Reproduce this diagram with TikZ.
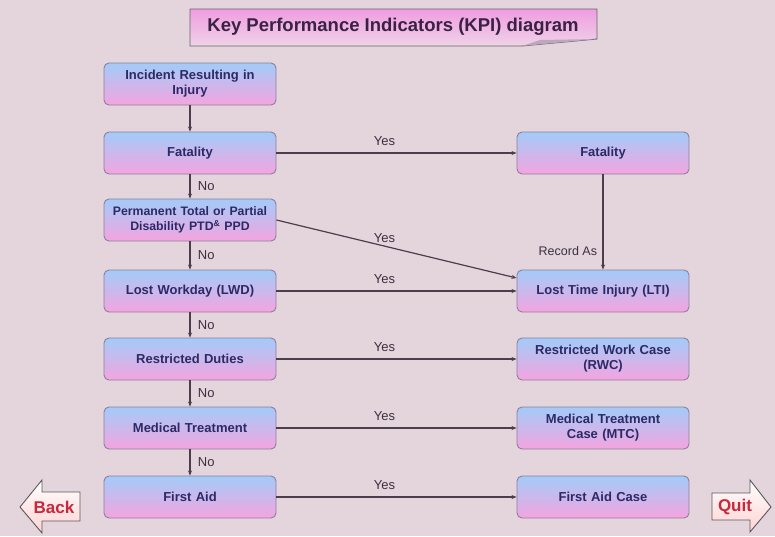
\documentclass[tikz,border=0pt]{standalone}
\usepackage{fontspec}
\setmainfont{Liberation Sans}
\usetikzlibrary{arrows.meta}
\definecolor{bgc}{HTML}{E4D5DD}
\definecolor{boxtop}{HTML}{A2CBF8}
\definecolor{boxbot}{HTML}{F5A4E0}
\definecolor{boxline}{HTML}{8C7E9C}
\definecolor{txtc}{HTML}{2B2A66}
\definecolor{linec}{HTML}{4A3D4C}
\definecolor{lblc}{HTML}{3A3040}
\definecolor{titletop}{HTML}{F09CE2}
\definecolor{titlebot}{HTML}{EFD3E6}
\definecolor{titletxt}{HTML}{3A2145}
\definecolor{navred}{HTML}{C8283C}
\tikzset{
  kbox/.style={draw=boxline, line width=0.9pt, rounded corners=5pt, top color=boxtop, bottom color=boxbot,
    minimum width=172pt, minimum height=42pt, text width=168pt, align=center,
    font=\bfseries\fontsize{13}{15}\selectfont, text=txtc, inner sep=2pt},
  conn/.style={draw=linec, line width=1.2pt, -{Stealth[length=5pt,width=4pt]}},
  lbl/.style={font=\fontsize{13}{14}\selectfont, text=lblc},
  navarrow/.style={draw=gray!70!black, line width=0.9pt, top color=white, bottom color=pink!70!white, line join=miter},
  navtxt/.style={font=\bfseries\fontsize{17}{18}\selectfont, text=navred}
}
\begin{document}
\begin{tikzpicture}[x=1pt,y=-1pt]
\useasboundingbox (0,0) rectangle (775,536);
\fill[bgc] (0,0) rectangle (775,536);
% title
\path[draw=gray!80!black, line width=0.9pt, top color=titletop, bottom color=titlebot]
  (190,9) -- (597,9) -- (597,39) -- (522,46) -- (190,46) -- cycle;
\fill[gray!60!violet!50] (522,46) -- (597,39) -- (540,40) -- cycle;
\node (title) at (393,27) {\bfseries\fontsize{18.5}{20}\selectfont\color{titletxt}Key Performance Indicators (KPI) diagram};
% left column
\node[kbox] (inc) at (190,84) {Incident Resulting in\\Injury};
\node[kbox] (fat) at (190,153) {Fatality};
\node[kbox, font=\bfseries\fontsize{12.3}{14.5}\selectfont] (perm) at (190,220) {Permanent Total or Partial\\Disability PTD\textsuperscript{\&} PPD};
\node[kbox] (lwd) at (190,291) {Lost Workday (LWD)};
\node[kbox] (rd) at (190,359) {Restricted Duties};
\node[kbox] (mt) at (190,428) {Medical Treatment};
\node[kbox] (fa) at (190,497) {First Aid};
% right column
\node[kbox] (rfat) at (603,153) {Fatality};
\node[kbox] (lti) at (603,291) {Lost Time Injury (LTI)};
\node[kbox] (rwc) at (603,359) {Restricted Work Case\\(RWC)};
\node[kbox] (mtc) at (603,428) {Medical Treatment\\Case (MTC)};
\node[kbox] (fac) at (603,497) {First Aid Case};
% vertical connectors
\draw[conn] (inc) -- (fat);
\draw[conn] (fat) -- node[lbl, right=4pt] {No} (perm);
\draw[conn] (perm) -- node[lbl, right=4pt] {No} (lwd);
\draw[conn] (lwd) -- node[lbl, right=4pt] {No} (rd);
\draw[conn] (rd) -- node[lbl, right=4pt] {No} (mt);
\draw[conn] (mt) -- node[lbl, right=4pt] {No} (fa);
% horizontal connectors
\draw[conn] (fat) -- node[lbl, above=3pt, pos=0.45] {Yes} (rfat);
\draw[conn] (perm.east) -- node[lbl, above=0pt, pos=0.45] {Yes} ([yshift=13pt]lti.west);
\draw[conn] (lwd) -- node[lbl, above=3pt, pos=0.45] {Yes} (lti);
\draw[conn] (rd) -- node[lbl, above=3pt, pos=0.45] {Yes} (rwc);
\draw[conn] (mt) -- node[lbl, above=3pt, pos=0.45] {Yes} (mtc);
\draw[conn] (fa) -- node[lbl, above=3pt, pos=0.45] {Yes} (fac);
\draw[conn] (rfat) -- node[lbl, left=2pt, pos=0.8, font=\fontsize{12.5}{14}\selectfont] {Record As} (lti);
% navigation arrows
\path[navarrow] (20,507) -- (42,480) -- (42,492) -- (80,492) -- (80,521) -- (42,521) -- (42,533) -- cycle;
\node[navtxt] (back) at (54,507) {Back};
\path[navarrow] (712,493) -- (750,493) -- (750,480) -- (771,507) -- (750,532) -- (750,520) -- (712,520) -- cycle;
\node[navtxt] (quit) at (735,507) {Quit};
\end{tikzpicture}
\end{document}
